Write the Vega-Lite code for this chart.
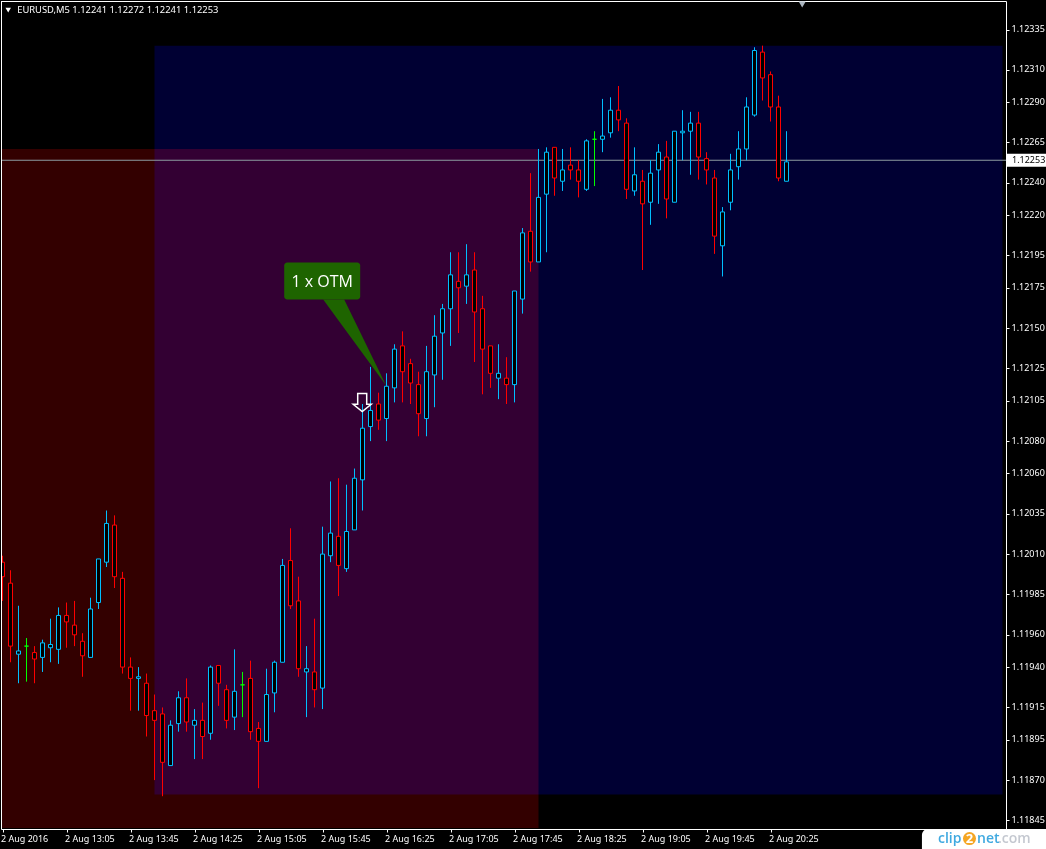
{
"$schema":"https://vega.github.io/schema/vega-lite/v6.json",
"width":1005,"height":828,"autosize":{"type":"none"},"padding":{"left":1,"top":1,"right":40,"bottom":20},
"background":"#000000",
"config":{"view":{"stroke":"#FFFFFF","strokeWidth":1,"fill":"#000000"},"font":"Noto Sans"},
"datasets":{
"candles":[
{"t":"2016-08-02T12:25","o":1.12005,"h":1.12009,"l":1.11981,"c":1.11996,"d":"down"},
{"t":"2016-08-02T12:30","o":1.11992,"h":1.12000,"l":1.11943,"c":1.11953,"d":"down"},
{"t":"2016-08-02T12:35","o":1.11948,"h":1.11978,"l":1.11930,"c":1.11950,"d":"up"},
{"t":"2016-08-02T12:40","o":1.11953,"h":1.11958,"l":1.11931,"c":1.11953,"d":"flat"},
{"t":"2016-08-02T12:45","o":1.11949,"h":1.11953,"l":1.11930,"c":1.11945,"d":"down"},
{"t":"2016-08-02T12:50","o":1.11946,"h":1.11957,"l":1.11937,"c":1.11955,"d":"up"},
{"t":"2016-08-02T12:55","o":1.11952,"h":1.11970,"l":1.11943,"c":1.11954,"d":"up"},
{"t":"2016-08-02T13:00","o":1.11951,"h":1.11977,"l":1.11942,"c":1.11972,"d":"up"},
{"t":"2016-08-02T13:05","o":1.11972,"h":1.11980,"l":1.11952,"c":1.11968,"d":"down"},
{"t":"2016-08-02T13:10","o":1.11966,"h":1.11981,"l":1.11953,"c":1.11960,"d":"down"},
{"t":"2016-08-02T13:15","o":1.11956,"h":1.11961,"l":1.11934,"c":1.11947,"d":"down"},
{"t":"2016-08-02T13:20","o":1.11946,"h":1.11983,"l":1.11946,"c":1.11976,"d":"up"},
{"t":"2016-08-02T13:25","o":1.11980,"h":1.12007,"l":1.11976,"c":1.12007,"d":"up"},
{"t":"2016-08-02T13:30","o":1.12005,"h":1.12037,"l":1.12002,"c":1.12029,"d":"up"},
{"t":"2016-08-02T13:35","o":1.12028,"h":1.12034,"l":1.11989,"c":1.11996,"d":"down"},
{"t":"2016-08-02T13:40","o":1.11995,"h":1.11999,"l":1.11936,"c":1.11940,"d":"down"},
{"t":"2016-08-02T13:45","o":1.11940,"h":1.11946,"l":1.11913,"c":1.11933,"d":"down"},
{"t":"2016-08-02T13:50","o":1.11933,"h":1.11940,"l":1.11913,"c":1.11934,"d":"up"},
{"t":"2016-08-02T13:55","o":1.11930,"h":1.11936,"l":1.11897,"c":1.11910,"d":"down"},
{"t":"2016-08-02T14:00","o":1.11913,"h":1.11923,"l":1.11870,"c":1.11907,"d":"down"},
{"t":"2016-08-02T14:05","o":1.11911,"h":1.11915,"l":1.11860,"c":1.11881,"d":"down"},
{"t":"2016-08-02T14:10","o":1.11879,"h":1.11907,"l":1.11879,"c":1.11904,"d":"up"},
{"t":"2016-08-02T14:15","o":1.11905,"h":1.11925,"l":1.11900,"c":1.11921,"d":"up"},
{"t":"2016-08-02T14:20","o":1.11921,"h":1.11933,"l":1.11900,"c":1.11906,"d":"down"},
{"t":"2016-08-02T14:25","o":1.11904,"h":1.11914,"l":1.11883,"c":1.11907,"d":"up"},
{"t":"2016-08-02T14:30","o":1.11907,"h":1.11918,"l":1.11883,"c":1.11897,"d":"down"},
{"t":"2016-08-02T14:35","o":1.11899,"h":1.11941,"l":1.11895,"c":1.11940,"d":"up"},
{"t":"2016-08-02T14:40","o":1.11941,"h":1.11941,"l":1.11916,"c":1.11930,"d":"down"},
{"t":"2016-08-02T14:45","o":1.11926,"h":1.11929,"l":1.11902,"c":1.11907,"d":"down"},
{"t":"2016-08-02T14:50","o":1.11909,"h":1.11951,"l":1.11901,"c":1.11925,"d":"up"},
{"t":"2016-08-02T14:55","o":1.11929,"h":1.11937,"l":1.11909,"c":1.11929,"d":"flat"},
{"t":"2016-08-02T15:00","o":1.11933,"h":1.11944,"l":1.11895,"c":1.11900,"d":"down"},
{"t":"2016-08-02T15:05","o":1.11902,"h":1.11906,"l":1.11865,"c":1.11894,"d":"down"},
{"t":"2016-08-02T15:10","o":1.11894,"h":1.11939,"l":1.11894,"c":1.11923,"d":"up"},
{"t":"2016-08-02T15:15","o":1.11924,"h":1.11944,"l":1.11912,"c":1.11943,"d":"up"},
{"t":"2016-08-02T15:20","o":1.11943,"h":1.12007,"l":1.11943,"c":1.12003,"d":"up"},
{"t":"2016-08-02T15:25","o":1.12006,"h":1.12026,"l":1.11976,"c":1.11978,"d":"down"},
{"t":"2016-08-02T15:30","o":1.11981,"h":1.11996,"l":1.11934,"c":1.11939,"d":"down"},
{"t":"2016-08-02T15:35","o":1.11937,"h":1.11953,"l":1.11909,"c":1.11939,"d":"up"},
{"t":"2016-08-02T15:40","o":1.11937,"h":1.11970,"l":1.11915,"c":1.11926,"d":"down"},
{"t":"2016-08-02T15:45","o":1.11927,"h":1.12027,"l":1.11914,"c":1.12010,"d":"up"},
{"t":"2016-08-02T15:50","o":1.12009,"h":1.12055,"l":1.12005,"c":1.12023,"d":"up"},
{"t":"2016-08-02T15:55","o":1.12021,"h":1.12057,"l":1.11984,"c":1.12003,"d":"down"},
{"t":"2016-08-02T16:00","o":1.12001,"h":1.12053,"l":1.11999,"c":1.12024,"d":"up"},
{"t":"2016-08-02T16:05","o":1.12025,"h":1.12063,"l":1.12025,"c":1.12057,"d":"up"},
{"t":"2016-08-02T16:10","o":1.12056,"h":1.12103,"l":1.12037,"c":1.12088,"d":"up"},
{"t":"2016-08-02T16:15","o":1.12089,"h":1.12126,"l":1.12080,"c":1.12099,"d":"up"},
{"t":"2016-08-02T16:20","o":1.12103,"h":1.12110,"l":1.12087,"c":1.12093,"d":"down"},
{"t":"2016-08-02T16:25","o":1.12094,"h":1.12122,"l":1.12080,"c":1.12114,"d":"up"},
{"t":"2016-08-02T16:30","o":1.12113,"h":1.12140,"l":1.12104,"c":1.12137,"d":"up"},
{"t":"2016-08-02T16:35","o":1.12139,"h":1.12148,"l":1.12104,"c":1.12123,"d":"down"},
{"t":"2016-08-02T16:40","o":1.12128,"h":1.12131,"l":1.12103,"c":1.12116,"d":"down"},
{"t":"2016-08-02T16:45","o":1.12115,"h":1.12123,"l":1.12083,"c":1.12097,"d":"down"},
{"t":"2016-08-02T16:50","o":1.12094,"h":1.12139,"l":1.12083,"c":1.12123,"d":"up"},
{"t":"2016-08-02T16:55","o":1.12121,"h":1.12158,"l":1.12101,"c":1.12145,"d":"up"},
{"t":"2016-08-02T17:00","o":1.12147,"h":1.12165,"l":1.12118,"c":1.12162,"d":"up"},
{"t":"2016-08-02T17:05","o":1.12162,"h":1.12197,"l":1.12139,"c":1.12183,"d":"up"},
{"t":"2016-08-02T17:10","o":1.12179,"h":1.12197,"l":1.12147,"c":1.12175,"d":"down"},
{"t":"2016-08-02T17:15","o":1.12176,"h":1.12202,"l":1.12165,"c":1.12183,"d":"up"},
{"t":"2016-08-02T17:20","o":1.12186,"h":1.12197,"l":1.12129,"c":1.12160,"d":"down"},
{"t":"2016-08-02T17:25","o":1.12162,"h":1.12170,"l":1.12109,"c":1.12137,"d":"down"},
{"t":"2016-08-02T17:30","o":1.12139,"h":1.12139,"l":1.12113,"c":1.12122,"d":"down"},
{"t":"2016-08-02T17:35","o":1.12119,"h":1.12140,"l":1.12106,"c":1.12122,"d":"up"},
{"t":"2016-08-02T17:40","o":1.12119,"h":1.12132,"l":1.12103,"c":1.12115,"d":"down"},
{"t":"2016-08-02T17:45","o":1.12115,"h":1.12173,"l":1.12104,"c":1.12173,"d":"up"},
{"t":"2016-08-02T17:50","o":1.12168,"h":1.12212,"l":1.12159,"c":1.12209,"d":"up"},
{"t":"2016-08-02T17:55","o":1.12210,"h":1.12246,"l":1.12185,"c":1.12191,"d":"down"},
{"t":"2016-08-02T18:00","o":1.12191,"h":1.12261,"l":1.12191,"c":1.12231,"d":"up"},
{"t":"2016-08-02T18:05","o":1.12233,"h":1.12262,"l":1.12197,"c":1.12259,"d":"up"},
{"t":"2016-08-02T18:10","o":1.12262,"h":1.12262,"l":1.12232,"c":1.12243,"d":"down"},
{"t":"2016-08-02T18:15","o":1.12241,"h":1.12261,"l":1.12235,"c":1.12248,"d":"up"},
{"t":"2016-08-02T18:20","o":1.12251,"h":1.12262,"l":1.12242,"c":1.12248,"d":"down"},
{"t":"2016-08-02T18:25","o":1.12248,"h":1.12254,"l":1.12231,"c":1.12241,"d":"down"},
{"t":"2016-08-02T18:30","o":1.12236,"h":1.12267,"l":1.12235,"c":1.12266,"d":"up"},
{"t":"2016-08-02T18:35","o":1.12267,"h":1.12272,"l":1.12238,"c":1.12267,"d":"flat"},
{"t":"2016-08-02T18:40","o":1.12267,"h":1.12292,"l":1.12259,"c":1.12269,"d":"up"},
{"t":"2016-08-02T18:45","o":1.12271,"h":1.12293,"l":1.12268,"c":1.12285,"d":"up"},
{"t":"2016-08-02T18:50","o":1.12285,"h":1.12300,"l":1.12272,"c":1.12279,"d":"down"},
{"t":"2016-08-02T18:55","o":1.12277,"h":1.12280,"l":1.12230,"c":1.12236,"d":"down"},
{"t":"2016-08-02T19:00","o":1.12235,"h":1.12262,"l":1.12232,"c":1.12245,"d":"up"},
{"t":"2016-08-02T19:05","o":1.12241,"h":1.12248,"l":1.12186,"c":1.12227,"d":"down"},
{"t":"2016-08-02T19:10","o":1.12228,"h":1.12254,"l":1.12214,"c":1.12246,"d":"up"},
{"t":"2016-08-02T19:15","o":1.12248,"h":1.12264,"l":1.12227,"c":1.12259,"d":"up"},
{"t":"2016-08-02T19:20","o":1.12256,"h":1.12266,"l":1.12218,"c":1.12230,"d":"down"},
{"t":"2016-08-02T19:25","o":1.12228,"h":1.12272,"l":1.12228,"c":1.12272,"d":"up"},
{"t":"2016-08-02T19:30","o":1.12271,"h":1.12285,"l":1.12254,"c":1.12272,"d":"up"},
{"t":"2016-08-02T19:35","o":1.12272,"h":1.12284,"l":1.12245,"c":1.12277,"d":"up"},
{"t":"2016-08-02T19:40","o":1.12277,"h":1.12284,"l":1.12242,"c":1.12256,"d":"down"},
{"t":"2016-08-02T19:45","o":1.12255,"h":1.12259,"l":1.12239,"c":1.12248,"d":"down"},
{"t":"2016-08-02T19:50","o":1.12243,"h":1.12248,"l":1.12196,"c":1.12207,"d":"down"},
{"t":"2016-08-02T19:55","o":1.12201,"h":1.12225,"l":1.12182,"c":1.12222,"d":"up"},
{"t":"2016-08-02T20:00","o":1.12228,"h":1.12258,"l":1.12223,"c":1.12248,"d":"up"},
{"t":"2016-08-02T20:05","o":1.12250,"h":1.12272,"l":1.12242,"c":1.12261,"d":"up"},
{"t":"2016-08-02T20:10","o":1.12261,"h":1.12293,"l":1.12254,"c":1.12287,"d":"up"},
{"t":"2016-08-02T20:15","o":1.12282,"h":1.12324,"l":1.12281,"c":1.12322,"d":"up"},
{"t":"2016-08-02T20:20","o":1.12321,"h":1.12325,"l":1.12291,"c":1.12305,"d":"down"},
{"t":"2016-08-02T20:25","o":1.12307,"h":1.12309,"l":1.12278,"c":1.12287,"d":"down"},
{"t":"2016-08-02T20:30","o":1.12287,"h":1.12294,"l":1.12241,"c":1.12243,"d":"down"},
{"t":"2016-08-02T20:35","o":1.12241,"h":1.12272,"l":1.12241,"c":1.12253,"d":"up"}
]},
"encoding":{
"x":{"field":"t","type":"temporal","title":null,"scale":{"domain":["2016-08-02T12:24:03.750","2016-08-02T22:52:11.250"],"nice":false,"padding":0},
"axis":{"orient":"bottom","grid":false,"domain":false,"tickColor":"#FFFFFF","tickSize":3,"labelColor":"#FFFFFF","labelFont":"Noto Sans","labelFontSize":9,"labelAlign":"left","labelBaseline":"middle","labelPadding":6,"labelOffset":-2,"labelOverlap":false,"labelFlush":false,"labelBound":false,
"values":["2016-08-02T12:25","2016-08-02T13:05","2016-08-02T13:45","2016-08-02T14:25","2016-08-02T15:05","2016-08-02T15:45","2016-08-02T16:25","2016-08-02T17:05","2016-08-02T17:45","2016-08-02T18:25","2016-08-02T19:05","2016-08-02T19:45","2016-08-02T20:25"],
"labelExpr":"hours(datum.value)==12 ? '2 Aug 2016' : timeFormat(datum.value,'%-d %b %H:%M')"}},
"y":{"field":"p","type":"quantitative","title":null,"scale":{"domain":[1.118397,1.1235266],"nice":false,"zero":false},
"axis":{"orient":"right","grid":false,"domain":false,"tickColor":"#FFFFFF","tickSize":3,"labelColor":"#FFFFFF","labelFont":"Noto Sans","labelFontSize":9,"labelPadding":2,"labelOffset":-1,"labelOverlap":false,"format":".5f","labelBound":false,"labelFlush":false,
"values":[1.12335,1.12310,1.12290,1.12265,1.12240,1.12220,1.12195,1.12175,1.12150,1.12125,1.12105,1.12080,1.12060,1.12035,1.12010,1.11985,1.11960,1.11940,1.11915,1.11895,1.11870,1.11845]}}
},
"layer":[
{"data":{"values":[
{"zone":"sell","t":"2016-08-02T12:24:03.750","t2":"2016-08-02T18:00","p":1.12261,"p2":1.118403},
{"zone":"buy","t":"2016-08-02T14:00","t2":"2016-08-02T22:50","p":1.12325,"p2":1.11861}]},
"mark":{"type":"rect","blend":"lighten"},
"encoding":{"x2":{"field":"t2"},"y2":{"field":"p2"},
"fill":{"field":"zone","type":"nominal","legend":null,"scale":{"domain":["sell","buy"],"range":["#330000","#000033"]}}}},
{"data":{"values":[{"t":"2016-08-02T12:24:03.750","t2":"2016-08-02T22:52:11.250","p":1.12254}]},
"mark":{"type":"rule","color":"#8C9AA0","strokeWidth":1},
"encoding":{"x2":{"field":"t2"}}},
{"data":{"name":"candles"},
"mark":{"type":"rule","strokeWidth":1,"clip":true},
"encoding":{"y":{"field":"h","type":"quantitative","title":null},"y2":{"field":"l"},
"stroke":{"field":"d","type":"nominal","legend":null,"scale":{"domain":["up","down","flat"],"range":["#00BFFF","#FF0000","#00FF00"]}}}},
{"data":{"name":"candles"},
"mark":{"type":"bar","size":4,"fill":"#000000","strokeWidth":1,"orient":"vertical","clip":true},
"encoding":{"y":{"field":"o","type":"quantitative","title":null},"y2":{"field":"c"},
"stroke":{"field":"d","type":"nominal","legend":null},
"fill":{"condition":{"test":"datum.d==='flat'","value":"#00FF00"},"value":"#000000"}}},
{"data":{"values":[{"t":"2016-08-02T12:24:22.500","p":1.1235266,"p2":1.118397}]},
"mark":{"type":"rule","color":"#FFFFFF","strokeWidth":1},
"encoding":{"y2":{"field":"p2"}}},
{"data":{"values":[
{"t":"2016-08-02T15:45:26","p":1.121677,"p2":1.121677},
{"t":"2016-08-02T15:58:34","p":1.121677,"p2":1.1215},
{"t":"2016-08-02T16:24:47","p":1.121145,"p2":1.121145}]},
"mark":{"type":"area","color":"#1E6400","orient":"vertical"},
"encoding":{"y2":{"field":"p2"}}},
{"data":{"values":[{"t":"2016-08-02T15:21:04","t2":"2016-08-02T16:08:34","p":1.121907,"p2":1.121677}]},
"mark":{"type":"rect","color":"#1E6400","cornerRadius":3},
"encoding":{"x2":{"field":"t2"},"y2":{"field":"p2"}}},
{"data":{"values":[{"t":"2016-08-02T15:44:49","p":1.121783,"label":"1 x OTM"}]},
"mark":{"type":"text","color":"#FFFFFF","font":"Open Sans","fontSize":16,"align":"center","baseline":"middle"},
"encoding":{"text":{"field":"label"}}},
{"data":{"values":[{"t":"2016-08-02T16:09:49","p":1.121039}]},
"mark":{"type":"point","shape":"M -0.5 -1 H 0.5 V 0.2 H 1 L 0 1 L -1 0.2 H -0.5 Z","size":324,"filled":false,"stroke":"#FFFFFF","strokeWidth":1.5,"opacity":1},
"encoding":{}},
{"data":{"values":[{"t":"2016-08-02T12:34:11","p":1.12347,"label":"EURUSD,M5  1.12241 1.12272 1.12241 1.12253"}]},
"mark":{"type":"text","color":"#FFFFFF","font":"Noto Sans","fontSize":9.4,"align":"left","baseline":"middle"},
"encoding":{"text":{"field":"label"}}},
{"data":{"values":[{"t":"2016-08-02T12:28:34","p":1.12347,"c":"#FFFFFF","s":30},{"t":"2016-08-02T20:44:49","p":1.123505,"c":"#AAB4BE","s":50}]},
"mark":{"type":"point","shape":"triangle-down","filled":true,"opacity":1},
"encoding":{"color":{"field":"c","type":"nominal","scale":null,"legend":null},"size":{"field":"s","type":"quantitative","scale":null,"legend":null}}},
{"data":{"values":[{"t":"2016-08-02T22:52:49","t2":"2016-08-02T23:17:12","p":1.12258,"p2":1.1225}]},
"mark":{"type":"rect","color":"#FFFFFF"},
"encoding":{"x2":{"field":"t2"},"y2":{"field":"p2"}}},
{"data":{"values":[{"t":"2016-08-02T22:55:56","p":1.12254,"label":"1.12253"}]},
"mark":{"type":"text","color":"#000000","font":"Noto Sans","fontSize":9,"align":"left","baseline":"middle"},
"encoding":{"text":{"field":"label"}}},
{"data":{"values":[{"t":"2016-08-02T21:59:39","t2":"2016-08-02T23:17:12","p":1.118397,"p2":1.11827}]},
"mark":{"type":"rect","color":"#FFFFFF","cornerRadiusTopLeft":6},
"encoding":{"x2":{"field":"t2"},"y2":{"field":"p2"}}},
{"data":{"values":[{"t":"2016-08-02T22:29:22","p":1.118338}]},
"mark":{"type":"point","shape":"circle","filled":true,"color":"#F5A623","size":170,"opacity":1},
"encoding":{}},
{"data":{"values":[
{"t":"2016-08-02T22:09:41","p":1.118338,"label":"clip","c":"#3FA9E0"},
{"t":"2016-08-02T22:34:04","p":1.118338,"label":"net","c":"#3FA9E0"},
{"t":"2016-08-02T22:47:11","p":1.118338,"label":".com","c":"#C4C8D0"}]},
"mark":{"type":"text","font":"Open Sans","fontSize":14,"fontWeight":600,"align":"left","baseline":"middle"},
"encoding":{"text":{"field":"label"},"color":{"field":"c","type":"nominal","scale":null,"legend":null}}},
{"data":{"values":[{"t":"2016-08-02T22:29:22","p":1.118338,"label":"2"}]},
"mark":{"type":"text","font":"Open Sans","fontSize":13,"fontWeight":700,"color":"#FFFFFF","align":"center","baseline":"middle"},
"encoding":{"text":{"field":"label"}}}
]
}
